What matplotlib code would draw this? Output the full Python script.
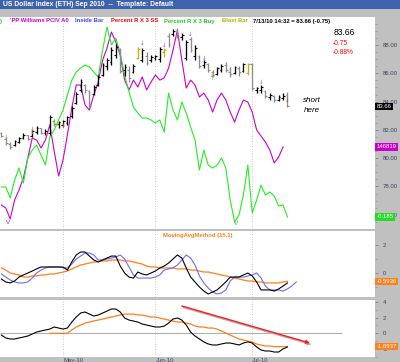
import numpy as np
import matplotlib
matplotlib.use('Agg')
import matplotlib.pyplot as plt
import matplotlib.transforms as mtransforms
from matplotlib.patches import Rectangle

plt.rcParams['font.family'] = ['Liberation Sans', 'DejaVu Sans']

# ---------------- data ----------------
title = 'US Dollar Index (ETH) Sep 2010  --  Template: Default'
months = ['May-10', 'Jun-10', 'Jul-10']
month_start = [14, 35, 57]          # bar index of first session of each month

opens = [81.78,81.35,81.00,80.93,81.14,81.42,81.64,81.56,81.85,82.13,81.78,81.78,82.62,82.41,82.34,82.48,82.98,83.90,84.82,85.17,
         84.75,84.53,85.17,85.88,86.51,86.80,87.29,87.65,86.23,86.23,86.09,87.08,86.94,87.22,86.94,87.08,87.01,87.50,88.63,88.78,
         89.06,88.56,87.08,88.42,87.22,87.22,86.58,86.66,86.09,85.95,86.23,86.58,86.09,86.02,86.37,86.16,86.02,86.66,84.82,84.82,
         84.75,84.32,84.39,84.11,84.25,84.46]
highs = [81.85,81.42,81.14,81.28,81.49,81.78,81.64,81.99,82.27,82.13,82.06,83.05,82.77,82.62,82.70,82.98,83.69,84.68,85.59,85.24,
         84.82,85.17,85.88,86.73,87.08,87.86,88.07,87.79,86.66,86.51,86.66,87.86,87.79,87.50,87.29,87.29,87.86,87.79,88.85,89.13,
         89.20,88.85,88.35,88.56,88.00,87.29,86.94,86.73,86.23,86.44,86.66,86.80,86.44,86.51,86.51,86.73,86.73,86.73,85.03,85.17,
         84.82,84.60,84.46,84.46,84.60,84.68]
lows = [81.49,80.93,80.65,80.86,81.07,81.35,81.28,81.49,81.71,81.71,81.64,81.64,82.27,82.13,82.20,82.34,82.84,83.83,84.68,84.60,
        83.54,84.46,85.10,85.81,86.23,86.58,87.08,86.02,85.81,85.38,86.02,87.01,86.80,86.58,86.80,86.94,86.80,87.15,87.86,88.63,
        88.49,88.35,86.94,87.50,86.94,86.37,86.37,86.09,85.74,85.88,86.09,86.09,85.74,85.95,85.81,86.09,85.88,84.82,84.60,84.60,
        84.25,84.11,83.97,84.04,84.11,83.62]
closes = [81.56,81.07,80.79,81.21,81.42,81.64,81.35,81.92,82.13,81.78,81.92,82.91,82.41,82.55,82.62,82.91,83.54,84.53,85.38,84.82,
          83.69,85.03,85.74,86.58,86.94,87.65,87.86,86.16,86.44,85.67,86.51,87.72,87.65,86.73,87.15,87.22,87.72,87.65,88.07,88.99,
          88.63,88.71,88.21,87.65,87.79,86.51,86.80,86.23,85.88,86.37,86.51,86.23,85.95,86.44,86.09,86.66,86.66,84.96,84.96,85.03,
          84.39,84.46,84.11,84.32,84.41,83.66]
blast_bars = [31, 37, 56]
last_change = '-0.75'
last_pct = '-0.88%'
last_stamp = '7/13/10 14:32 = 83.66 (-0.75)'

# indicator overlays, read on the price scale of the upper panel
pciv = [76.69,76.47,75.70,77.04,77.75,78.60,80.01,81.42,81.28,80.72,81.28,82.34,80.50,78.74,79.87,81.64,83.55,85.17,85.17,83.76,
        83.40,84.46,85.38,86.94,87.79,88.92,88.21,87.29,85.52,84.82,85.52,85.03,85.74,84.82,85.38,85.88,85.52,85.67,86.37,87.64,
        89.06,86.94,84.96,85.52,85.17,84.32,84.60,84.11,83.26,84.11,84.60,84.11,83.26,82.55,83.40,84.11,83.97,83.26,81.99,81.56,
        81.14,80.57,79.66,80.08,80.79]
pciv_label = '146819'
pctr = [77.96,77.96,77.18,78.45,79.30,78.24,80.01,80.57,80.93,80.22,79.51,81.49,81.99,82.70,83.40,84.46,85.52,86.09,86.37,86.58,
        86.44,86.09,85.74,87.64,89.27,88.00,88.49,87.43,85.88,84.68,83.62,83.19,82.84,82.84,82.70,82.48,82.70,81.85,84.60,83.40,
        82.70,83.97,83.19,82.20,81.28,79.16,80.57,79.51,79.30,79.51,80.01,79.30,77.04,75.48,75.98,77.39,79.51,76.12,77.04,78.10,
        77.39,77.61,77.32,76.62,76.69,75.84]
pctr_label = '-0.185'

# signal markers (bar index, price)
inside_marks = [(1, 81.49), (32, 88.14), (37, 88.00), (43, 88.71), (46, 87.08), (59, 85.38)]
blast_marks = [(1, 81.07), (7, 81.78), (12, 82.55), (13, 82.41), (14, 82.34), (48, 85.95)]
ss_marks = [(7, 82.06), (65, 84.11)]
buy_marks = [(48, 85.60)]

# MovingAvgMethod (15,1) panel
ma_black = [-0.43,-0.64,-0.71,-0.57,-0.29,-0.14,0,0.14,0.29,0.43,0.43,0.43,0.43,0.43,0.43,0.21,0.79,1.29,1.5,1.5,
            1.21,0.93,0.79,0.93,1.07,1.21,1.21,0.5,0,-0.29,-0.36,0.07,-0.07,-0.14,0,0.14,0.36,0.5,0.71,1.0,
            1.29,1.07,0.36,-0.29,-0.64,-1.0,-1.29,-1.5,-1.36,-1.21,-0.93,-0.64,-0.29,-0.29,-0.29,-0.14,0,-0.21,-0.64,-1.21,
            -1.21,-1.21,-1.29,-1.14,-0.93,-0.71]
ma_blue = [-0.07,-0.29,-0.5,-0.64,-0.71,-0.71,-0.64,-0.36,0,0.21,0.36,0.43,0.43,0.43,0.36,0.36,0.64,1.0,1.21,1.43,
           1.43,1.29,0.93,0.93,1.0,1.07,1.14,1.29,1.0,0.43,-0.14,-0.36,-0.36,-0.36,-0.36,-0.29,-0.14,0.21,0.29,0.36,
           0.57,0.93,1.29,1.07,0.57,-0.21,-0.71,-1.07,-1.36,-1.5,-1.43,-1.21,-0.57,-0.29,-0.29,-0.29,-0.21,-0.14,0,-0.36,
           -0.93,-1.21,-1.21,-1.21,-1.29,-1.14,-0.93,-0.64]
ma_orange = [0.36,0.21,0,-0.07,-0.14,-0.29,-0.29,-0.21,-0.21,-0.14,-0.14,-0.07,-0.07,0,0.07,0.14,0.29,0.43,0.57,0.64,
             0.71,0.79,0.79,0.86,0.86,0.93,0.93,0.93,0.86,0.86,0.79,0.71,0.64,0.5,0.43,0.43,0.36,0.36,0.36,0.36,
             0.29,0.29,0.29,0.21,0.21,0.14,0.07,0.07,0,-0.07,-0.14,-0.21,-0.29,-0.36,-0.43,-0.5,-0.57,-0.57,-0.64,-0.64,
             -0.71,-0.71,-0.71,-0.71,-0.64,-0.5936]
ma_title = 'MovingAvgMethod (15,1)'
ma_label = '-0.5936'

# lower oscillator panel
osc_black = [-0.22,-0.59,-0.72,-0.72,-0.59,-0.47,-0.34,-0.09,0.16,0.29,0.42,0.54,0.80,0.67,0.54,0.67,1.43,2.06,2.57,2.70,
             2.44,2.19,2.32,2.57,2.82,3.08,3.08,2.70,1.94,1.68,1.56,1.43,1.18,1.05,0.92,0.80,0.80,0.92,1.30,1.81,
             1.94,1.68,1.05,0.16,-0.34,-0.72,-1.09,-1.35,-1.48,-1.48,-1.35,-1.23,-1.23,-1.35,-1.48,-1.23,-1.09,-1.23,-1.73,-2.11,
             -2.24,-2.24,-2.37,-2.37,-1.98,-1.73]
osc_orange_start = 11
osc_orange = [0,0,0,0,0,0.42,0.80,1.05,1.30,1.43,1.56,1.68,1.81,1.94,2.06,2.19,2.32,2.44,2.44,2.44,
              2.32,2.32,2.19,2.06,2.06,1.94,1.81,1.68,1.56,1.43,1.43,1.30,1.18,0.92,0.80,0.80,0.67,0.67,0.54,0.29,
              0.04,-0.22,-0.47,-0.72,-0.85,-0.97,-1.10,-1.35,-1.48,-1.61,-1.61,-1.69,-1.69,-1.69,-1.69]
osc_label = '-1.6937'
trend_arrow = ((41.0, 3.46), (70.1, -1.23))   # (start, end) in (bar, value)
osc_zero_end = 77.4

# ---------------- figure ----------------
W, H = 400, 362
fig = plt.figure(figsize=(4.0, 3.62), dpi=100, facecolor='#c0c0c0')

def px_axes(x0, y0, x1, y1):
    return fig.add_axes([x0 / W, 1 - y1 / H, (x1 - x0) / W, (y1 - y0) / H])

def fx(x):
    return x / W

def fy(y):
    return 1 - y / H

# title bar
fig.patches.append(Rectangle((0, fy(9)), 1, 9 / H, transform=fig.transFigure,
                             facecolor='#3d63ae', edgecolor='none', zorder=0))
fig.text(fx(3), fy(4.6), title, color='white', fontsize=4.9, fontweight='bold',
         va='center', ha='left')

XL = (-0.318, 84.9)
TICKC = '#404060'

ax1 = px_axes(0, 17, 375, 229)
ax2 = px_axes(0, 231, 375, 297)
ax3 = px_axes(0, 300, 375, 357)

for ax in (ax1, ax2, ax3):
    ax.set_facecolor('white')
    ax.set_xlim(*XL)
    for s in ax.spines.values():
        s.set_visible(False)
    ax.set_xticks([])
    ax.yaxis.tick_right()
    ax.tick_params(axis='y', direction='out', length=2.2, width=0.5, pad=3.5,
                   labelsize=4.3, colors='#707080', labelcolor=TICKC)
    ax.tick_params(axis='y', which='minor', direction='out', length=1.3, width=0.4, colors='#808090')
    for m in month_start:
        ax.axvline(m, color='#b8b8b8', lw=0.6, ls=(0, (1, 2)), zorder=1)

# ---- main panel ----
ax1.set_ylim(74.99, 89.98)
ax1.set_yticks([76, 78, 80, 82, 84, 86, 88])
ax1.set_yticklabels(['%.2f' % v for v in [76, 78, 80, 82, 84, 86, 88]])
ax1.set_yticks(np.arange(75.5, 89.9, 0.5), minor=True)

xi = np.arange(len(pciv))
ax1.plot(xi, pciv, color='#cc00cc', lw=0.8, zorder=3)
xg = np.arange(len(pctr))
ax1.plot(xg, pctr, color='#22ee22', lw=0.8, zorder=3)

for i in range(len(closes)):
    if i in blast_bars:
        c = '#c8b400'
    elif closes[i] < opens[i]:
        c = '#8c8c8c'
    else:
        c = '#000000'
    ax1.vlines(i, lows[i], highs[i], color=c, lw=0.95, zorder=4)
    ax1.hlines(opens[i], i - 0.4, i, color=c, lw=0.8, zorder=4)
    ax1.hlines(closes[i], i, i + 0.4, color=c, lw=0.8, zorder=4)

def marks(lst, glyph, color):
    for (i, p) in lst:
        ax1.text(i, p, glyph, color=color, fontsize=4, ha='center', va='center', zorder=5,
                 family='DejaVu Sans')

marks(inside_marks, '\u2193', '#6060ff')
marks(blast_marks, '\u2193', '#c8b400')
marks(ss_marks, '\u2193', '#ff2020')
marks(buy_marks, '\u2191', '#22cc22')

# V markers at panel bottom
ax1.text(1.5, 75.45, 'V', color='#cc00cc', fontsize=4.5, ha='center', va='center')
ax1.text(53.3, 75.4, 'V', color='#22cc22', fontsize=4.5, ha='center', va='center')

# legend row
ly = fy(21)
leg = [(0, ')', '#22cc22'), (10, "'PP Williams PCIV A0", '#cc00cc'), (75, 'Inside Bar', '#4040ff'),
       (111, 'Percent R X 3 SS', '#ff0000'), (164, 'Percent R X 3 Buy', '#22cc22'),
       (222, 'Blast Bar', '#b8b000'), (253, last_stamp, '#000000')]
for x, s, c in leg:
    fig.text(fx(x), ly, s, color=c, fontsize=4.2, fontweight='bold', ha='left', va='center')

# quote box
ax1.text(75.4, 88.85, '%.2f' % closes[-1], color='black', fontsize=6.2, ha='left', va='center')
ax1.text(75.4, 88.14, last_change, color='#ff0000', fontsize=4.8, ha='left', va='center')
ax1.text(75.4, 87.50, last_pct, color='#ff0000', fontsize=4.8, ha='left', va='center')

ax1.text(70.6, 84.11, 'short', fontsize=5.8, style='italic', ha='center', va='center')
ax1.text(70.6, 83.40, 'here', fontsize=5.8, style='italic', ha='center', va='center')

def value_box(ax, y, s, fc, tc='white'):
    tr = mtransforms.blended_transform_factory(ax.transAxes, ax.transData)
    fig.text(1.004, y, s, transform=tr, fontsize=4.3, color=tc, ha='left', va='center',
             bbox=dict(boxstyle='square,pad=0.2', fc=fc, ec='none'), zorder=10)

value_box(ax1, closes[-1], '%.2f' % closes[-1], '#000000')
value_box(ax1, pciv[-1], pciv_label, '#cc00cc')
value_box(ax1, pctr[-1], pctr_label, '#22dd22')

# ---- MA panel ----
ax2.set_ylim(-1.714, 3.0)
ax2.set_yticks([0, 2])
ax2.set_yticklabels(['0', '2'])
ax2.set_yticks([-1, 1], minor=True)
ax2.plot(np.arange(len(ma_orange)), ma_orange, color='#ff7f1a', lw=0.9, zorder=3)
ax2.plot(np.arange(len(ma_blue)), ma_blue, color='#6b6bff', lw=0.8, zorder=3)
ax2.plot(np.arange(len(ma_black)), ma_black, color='black', lw=0.8, zorder=4)
fig.text(fx(163), fy(236), ma_title, color='#ff7f1a', fontsize=4.2, fontweight='bold', ha='left', va='center')
value_box(ax2, ma_orange[-1], ma_label, '#ff7f1a')

# ---- oscillator panel ----
ax3.set_ylim(-3.0, 4.22)
ax3.set_yticks([-2, 0, 2, 4])
ax3.set_yticklabels(['-2', '0', '2', '4'])
ax3.set_yticks([-3, -1, 1, 3], minor=True)
ax3.hlines(0, XL[0], osc_zero_end, color='#b0b0b0', lw=0.8, zorder=2)
ax3.plot(np.arange(osc_orange_start, osc_orange_start + len(osc_orange)), osc_orange,
         color='#ff7f1a', lw=0.9, zorder=3)
ax3.plot(np.arange(len(osc_black)), osc_black, color='black', lw=0.8, zorder=4)
(sx, sy), (ex, ey) = trend_arrow
ax3.annotate('', xy=(ex + 0.35, ey - 0.2), xytext=(sx + 0.35, sy - 0.2),
             arrowprops=dict(arrowstyle='-|>', color='#b0b0b0', lw=1.0, mutation_scale=5,
                             shrinkA=0, shrinkB=0), zorder=5)
ax3.annotate('', xy=(ex, ey), xytext=(sx, sy),
             arrowprops=dict(arrowstyle='-|>', color='#ff1a1a', lw=1.0, mutation_scale=5,
                             shrinkA=0, shrinkB=0), zorder=6)
value_box(ax3, osc_orange[-1], osc_label, '#ff7f1a')

# month labels in bottom band
trm = mtransforms.blended_transform_factory(ax3.transData, fig.transFigure)
for m, lab in zip(month_start, months):
    ax3.text(m, fy(357.6), lab, transform=trm, fontsize=4.3, color=TICKC, ha='left', va='top',
             clip_on=False)

fig.savefig('out.png', dpi=100, facecolor=fig.get_facecolor())
